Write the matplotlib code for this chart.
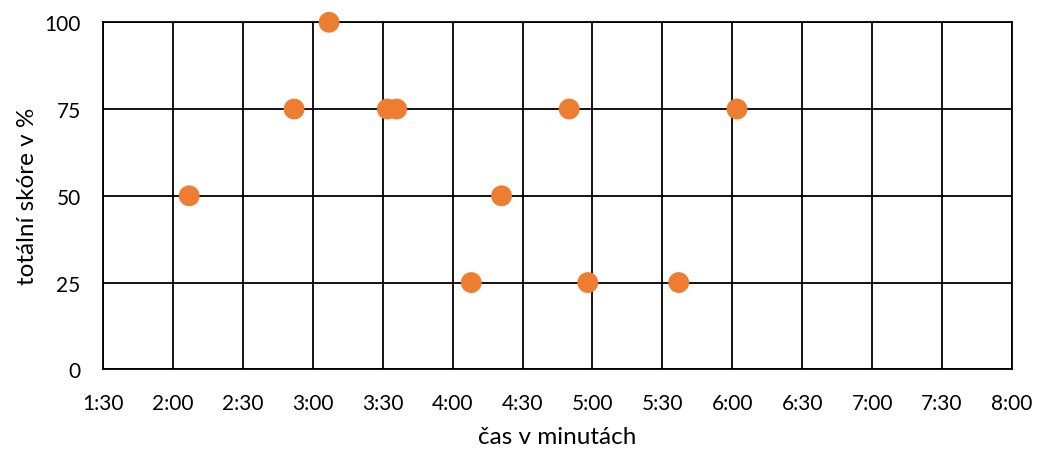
import matplotlib
matplotlib.use("Agg")
import matplotlib.pyplot as plt
from matplotlib.ticker import MultipleLocator, FuncFormatter

plt.rcParams['font.family'] = ['Lato', 'DejaVu Sans']

# time in seconds, total score in %
cas = [127, 172, 187, 212, 216, 248, 261, 290, 298, 337, 362]
skore = [50, 75, 100, 75, 75, 25, 50, 75, 25, 25, 75]

x_min, x_max = 90, 480
y_ticks = [0, 25, 50, 75, 100]


def mm_ss(v, pos):
    v = int(round(v))
    return "%d:%02d" % (v // 60, v % 60)


fig = plt.figure(figsize=(10.38, 4.52), dpi=100)
ax = fig.add_axes([0.0992, 0.1807, 0.8758, 0.7678])

ax.scatter(cas, skore, s=225, color='#ED7D31', edgecolors='none', zorder=3,
           clip_on=False)

ax.set_xlim(x_min, x_max)
ax.set_ylim(0, 100)
ax.xaxis.set_major_locator(MultipleLocator(30))
ax.xaxis.set_major_formatter(FuncFormatter(mm_ss))
ax.set_yticks(y_ticks)

ax.grid(True, color='black', linewidth=1.3)
ax.set_axisbelow(True)
for s in ax.spines.values():
    s.set_color('black')
    s.set_linewidth(1.3)
ax.tick_params(length=0, labelsize=15)
ax.tick_params(axis='x', pad=17)
ax.tick_params(axis='y', pad=16)

xl = ax.set_xlabel("čas v minutách", fontsize=17.5, va='center')
yl = ax.set_ylabel("totální skóre v %", fontsize=17.5, va='center')
ax.xaxis.set_label_coords(0.5, -0.195)
ax.yaxis.set_label_coords(-0.083, 0.5)

plt.savefig("out.png")
